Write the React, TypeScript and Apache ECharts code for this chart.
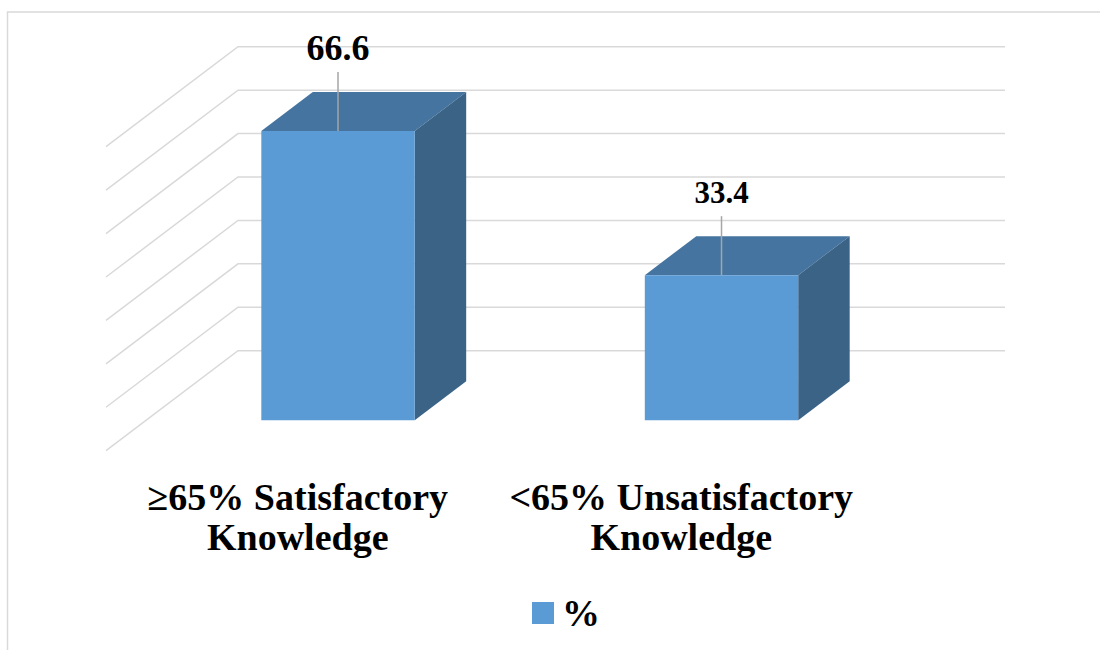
import React, { useEffect, useRef } from "react";
import * as echarts from "echarts";

// Knowledge groups and their share (%)
const categories = ["≥65% Satisfactory\nKnowledge", "<65% Unsatisfactory\nKnowledge"];
const percentValues = [66.6, 33.4];
// Value levels drawn as gridlines on the side and back walls
const gridValues = [0, 10, 20, 30, 40, 50, 60, 70];
const seriesName = "%";

// Value label font sizes, one per bar
const labelFontSizes = [36, 31];

const FONT = "Liberation Serif";
// Perspective vector from the front plane to the back wall
const DEPTH_X = 132;
const DEPTH_Y = -100;
// Bar placement along the depth (fraction of full depth)
const BAR_FRONT = 0.305;
const BAR_BACK = 0.695;
const BAR_WIDTH_RATIO = 0.4;

const FRONT_COLOR = "#5b9bd5";
const TOP_COLOR = "#44749f";
const SIDE_COLOR = "#3a6386";
const GRID_COLOR = "#d9d9d9";

export default function App() {
  const ref = useRef<HTMLDivElement>(null);

  useEffect(() => {
    const chart = echarts.init(ref.current!, null, { renderer: "svg" });

    const renderWall = (params: any, api: any) => {
      const cs = params.coordSys;
      const y = api.coord([0, api.value(1)])[1];
      return {
        type: "polyline",
        shape: {
          points: [
            [cs.x, y],
            [cs.x + DEPTH_X, y + DEPTH_Y],
            [cs.x + cs.width + DEPTH_X, y + DEPTH_Y],
          ],
        },
        style: { stroke: GRID_COLOR, lineWidth: 1.5, fill: null },
        silent: true,
      };
    };

    const renderBar = (params: any, api: any) => {
      const idx = api.value(0);
      const v = api.value(1);
      const [cx, y0] = api.coord([idx, 0]);
      const y1 = api.coord([idx, v])[1];
      const w = api.size([1, 0])[0] * BAR_WIDTH_RATIO;
      const fx = cx - w / 2 + BAR_FRONT * DEPTH_X;
      const fyBottom = y0 + BAR_FRONT * DEPTH_Y;
      const fyTop = y1 + BAR_FRONT * DEPTH_Y;
      const dx = (BAR_BACK - BAR_FRONT) * DEPTH_X;
      const dy = (BAR_BACK - BAR_FRONT) * DEPTH_Y;
      const midX = fx + w / 2;
      const fontSize = labelFontSizes[params.dataIndex];
      return {
        type: "group",
        children: [
          {
            type: "polygon",
            shape: {
              points: [
                [fx, fyTop],
                [fx + w, fyTop],
                [fx + w + dx, fyTop + dy],
                [fx + dx, fyTop + dy],
              ],
            },
            style: { fill: TOP_COLOR },
          },
          {
            type: "polygon",
            shape: {
              points: [
                [fx + w, fyTop],
                [fx + w + dx, fyTop + dy],
                [fx + w + dx, fyBottom + dy],
                [fx + w, fyBottom],
              ],
            },
            style: { fill: SIDE_COLOR },
          },
          {
            type: "rect",
            shape: { x: fx, y: fyTop, width: w, height: fyBottom - fyTop },
            style: { fill: FRONT_COLOR },
          },
          {
            type: "line",
            shape: { x1: midX, y1: fyTop - 59, x2: midX, y2: fyTop },
            style: { stroke: "#a6a6a6", lineWidth: 1.5 },
          },
          {
            type: "text",
            x: midX,
            y: fyTop - 83,
            style: {
              text: String(v),
              align: "center",
              verticalAlign: "middle",
              fontFamily: FONT,
              fontWeight: "bold",
              fontSize,
              fill: "#000",
            },
          },
        ],
      };
    };

    chart.setOption({
      animation: false,
      backgroundColor: "#ffffff",
      textStyle: { fontFamily: FONT },
      grid: { left: 106, top: 146.7, width: 767, height: 304 },
      xAxis: {
        type: "category",
        data: categories,
        axisLine: { show: false },
        axisTick: { show: false },
        splitLine: { show: false },
        axisLabel: {
          interval: 0,
          margin: 26,
          fontFamily: FONT,
          fontSize: 38,
          fontWeight: "bold",
          color: "#000",
          lineHeight: 40,
        },
      },
      yAxis: { type: "value", min: 0, max: 70, interval: 10, show: false },
      legend: {
        data: [{ name: seriesName, icon: "rect" }],
        left: 527,
        top: 589,
        itemWidth: 22,
        itemHeight: 22,
        selectedMode: false,
        textStyle: {
          fontFamily: FONT,
          fontSize: 38,
          fontWeight: "bold",
          color: "#000",
          padding: [0, 0, 0, 3],
        },
      },
      graphic: [
        {
          type: "rect",
          silent: true,
          shape: { x: 7.5, y: 12, width: 1200, height: 700 },
          style: { fill: null, stroke: GRID_COLOR, lineWidth: 1.5 },
        },
      ],
      series: [
        {
          name: "walls",
          type: "custom",
          z: 1,
          renderItem: renderWall,
          data: gridValues.map((v) => [0, v]),
        },
        {
          name: seriesName,
          type: "custom",
          z: 2,
          itemStyle: { color: FRONT_COLOR },
          renderItem: renderBar,
          data: percentValues.map((v, i) => [i, v]),
        },
      ],
    });

    return () => chart.dispose();
  }, []);

  return (
    <div
      ref={ref}
      style={{ position: "fixed", left: 0, top: 0, width: 1100, height: 650 }}
    />
  );
}
